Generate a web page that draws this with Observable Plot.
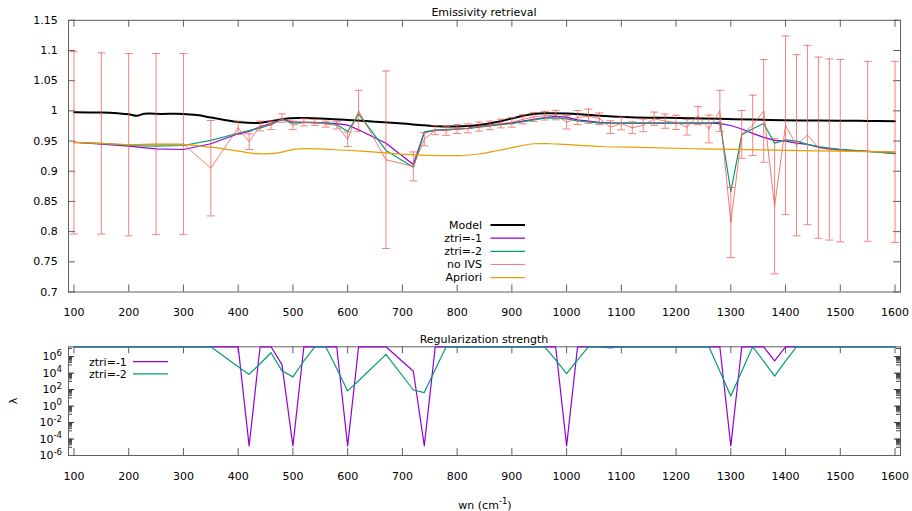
<!DOCTYPE html>
<html><head><meta charset="utf-8">
<script src="https://cdn.jsdelivr.net/npm/d3@7"></script>
<script src="https://cdn.jsdelivr.net/npm/@observablehq/plot@0.6"></script>
<style>
body{margin:0;background:#fff;}
#wrap{position:relative;width:912px;height:511px;overflow:hidden;background:#fff;font-family:"DejaVu Sans",sans-serif;}
#wrap svg{position:absolute;left:0;}
</style></head><body><div id="wrap"></div>
<script>
// ---------------- data ----------------
const wn = [100,150,200,250,300,350,400,420,440,460,480,500,520,540,560,580,600,620,670,720,740,760,780,800,820,840,860,880,900,920,940,960,980,1000,1020,1040,1060,1080,1100,1120,1140,1160,1180,1200,1220,1240,1260,1280,1300,1320,1340,1360,1380,1400,1420,1440,1460,1480,1500,1550,1600];
const noIVS = [0.947,0.946,0.944,0.945,0.945,0.905,
 0.972,
 0.949,0.975,0.976,0.988,0.976,0.981,0.981,0.978,0.976,0.953,1.000,
 0.919,0.908,
 0.953,0.968,0.967,0.970,0.971,0.974,0.976,0.979,0.981,0.986,
 0.990,0.992,0.993,0.981,0.989,0.991,0.987,0.973,0.979,0.972,
 0.976,0.987,0.983,0.981,0.973,0.992,0.970,1.000,0.815,0.961,
 0.976,1.000,0.842,0.976,0.943,0.960,0.939,0.936,0.934,
 0.933,0.932];
const noIVSerr = [0.151,0.150,0.151,0.150,0.150,0.079,
 0.011,
 0.013,0.008,0.007,0.007,0.007,0.006,0.005,0.005,0.006,0.012,0.034,
 0.147,0.024,
 0.011,0.0075,0.0075,0.0075,0.0075,0.0075,0.007,0.0072,0.008,0.0075,
 0.0075,0.0072,0.0078,0.011,0.0116,0.012,0.0097,0.0105,0.0105,0.0097,
 0.0105,0.011,0.0118,0.0118,0.013,0.015,0.023,0.034,0.058,0.0395,
 0.05,0.085,0.112,0.148,0.150,0.1485,0.150,0.150,0.151,
 0.149,0.150];
const ztri1 = [0.948,0.945,0.9415,0.937,0.936,0.9455,
 0.962,
 0.966,0.9736,0.979,0.9857,0.982,0.981,0.980,0.980,0.979,0.9765,0.9686,
 0.9465,0.9112,
 0.9647,0.9675,0.969,0.970,0.971,0.974,0.976,0.978,0.980,0.983,
 0.986,0.989,0.991,0.9895,0.985,0.983,0.981,0.980,0.9796,0.9796,
 0.9796,0.9796,0.9796,0.9796,0.9796,0.9796,0.9796,0.979,0.9758,0.970,
 0.9627,0.956,0.951,0.950,0.9465,0.9444,0.940,0.9372,0.9356,
 0.9328,0.930];
const ztri2 = [0.948,0.946,0.9426,0.9415,0.9426,0.951,
 0.963,
 0.9675,0.9714,0.9774,0.9857,0.9796,0.981,0.981,0.980,0.9774,0.9658,0.995,
 0.9344,0.9067,
 0.9647,0.9686,0.969,0.970,0.971,0.973,0.975,0.977,0.979,0.982,
 0.985,0.988,0.9885,0.9868,0.9835,0.9818,0.9796,0.9796,0.9796,0.9796,
 0.9796,0.9796,0.9796,0.9796,0.9796,0.9796,0.9796,0.9813,0.8664,0.9603,
 0.9703,0.979,0.9465,0.952,0.9499,0.9444,0.941,0.9383,0.9361,
 0.9328,0.929];
const modelWn = [100,150,180,200,215,228,260,300,325,350,375,400,437,460,490,520,560,600,650,700,740,780,810,843,870,898,920,940,962,1000,1030,1062,1117,1184,1250,1306,1370,1428,1500,1550,1600];
const modelVal = [0.9978,0.9972,0.996,0.9945,0.9918,0.9951,0.995,0.995,0.993,0.989,0.985,0.9815,0.980,0.983,0.9874,0.988,0.987,0.985,0.982,0.979,0.976,0.974,0.9745,0.977,0.981,0.9868,0.992,0.995,0.996,0.9955,0.994,0.992,0.9896,0.9885,0.9875,0.9863,0.985,0.9841,0.9838,0.9833,0.983];
const aprioriWn = [100,200,300,350,400,440,470,504,530,569,625,680,722,770,812,843,873,905,940,970,995,1062,1117,1245,1428,1600];
const aprioriVal = [0.948,0.9442,0.9442,0.9398,0.9332,0.9288,0.930,0.9365,0.9375,0.936,0.9332,0.9295,0.9272,0.926,0.9261,0.929,0.934,0.940,0.9455,0.9455,0.9444,0.941,0.9398,0.937,0.9343,0.9317];
const LTOP = 1.58e7; // lambda at the top of the panel
const lambda1 = [LTOP,LTOP,LTOP,LTOP,LTOP,LTOP,
 LTOP,
 1.5e-5,LTOP,LTOP,1.1e5,1.5e-5,LTOP,LTOP,LTOP,LTOP,1.5e-5,LTOP,
 LTOP,1.7e4,
 1.5e-5,LTOP,LTOP,LTOP,LTOP,LTOP,LTOP,LTOP,LTOP,LTOP,
 LTOP,LTOP,LTOP,1.5e-5,LTOP,LTOP,LTOP,LTOP,LTOP,LTOP,
 LTOP,LTOP,LTOP,LTOP,LTOP,LTOP,LTOP,LTOP,1.5e-5,LTOP,
 LTOP,LTOP,3e5,LTOP,LTOP,LTOP,LTOP,LTOP,LTOP,
 LTOP,LTOP];
const lambda2 = [LTOP,LTOP,LTOP,LTOP,LTOP,LTOP,
 6e4,
 7e3,1.4e5,3e6,1.9e4,3.5e3,3e5,LTOP,LTOP,3.7e4,70,1.2e3,
 1.9e6,90,
 44,2.8e4,LTOP,LTOP,LTOP,LTOP,LTOP,LTOP,LTOP,LTOP,
 LTOP,LTOP,4e5,9e3,4e5,LTOP,LTOP,1.2e7,LTOP,LTOP,
 LTOP,LTOP,LTOP,LTOP,LTOP,LTOP,LTOP,1.7e4,17,1.7e4,
 LTOP,2.8e5,4.4e3,2.8e5,LTOP,LTOP,LTOP,LTOP,LTOP,
 LTOP,LTOP];
const xTicks = [100,200,300,400,500,600,700,800,900,1000,1100,1200,1300,1400,1500,1600];
const yTicks = [0.7,0.75,0.8,0.85,0.9,0.95,1,1.05,1.1,1.15];
const lamTicks = [1e-6,1e-4,1e-2,1,1e2,1e4,1e6];
const topLegend = ["Model","ztri=-1","ztri=-2","no IVS","Apriori"];
const bottomLegend = ["ztri=-1","ztri=-2"];
const titles = ["Emissivity retrieval","Regularization strength"];

// ---------------- style ----------------
const FONT = "DejaVu Sans";
const GRAY = "#606060";
const C_MODEL = "#000000", C_Z1 = "#9400d3", C_Z2 = "#009e73", C_RED = "#ef5a50", C_APR = "#e69f00";
const W = 912, FL = 68, FR = 900, FW = FR - FL;
const T1 = 19.8, B1 = 291.5, H1 = 325, FH1 = B1 - T1;
const OFF2 = 325, T2 = 346.3 - OFF2, B2 = 455 - OFF2, H2 = 511 - OFF2, FH2 = B2 - T2;
const TICK = 7;
const SVGNS = "http://www.w3.org/2000/svg";

const redData = wn.map((x, i) => ({x, v: noIVS[i], e: noIVSerr[i]}));
const z1Data = wn.map((x, i) => ({x, v: ztri1[i], l: lambda1[i]}));
const z2Data = wn.map((x, i) => ({x, v: ztri2[i], l: lambda2[i]}));
const modelData = modelWn.map((x, i) => ({x, v: modelVal[i]}));
const aprData = aprioriWn.map((x, i) => ({x, v: aprioriVal[i]}));

const cap = {draw(ctx, size) { const w = Math.sqrt(size / Math.PI); ctx.moveTo(-w, 0); ctx.lineTo(w, 0); }};
const fmtPow = d => "10^" + Math.round(Math.log10(d));

const lamMinor = [];
for (let e = -7; e <= 7; e += 2) for (let m = 1; m <= 9; m++) {
  const v = m * Math.pow(10, e);
  if (v >= 1e-6 && v <= LTOP) lamMinor.push(v);
}

const baseStyle = {fontFamily: FONT, fontSize: "11px", background: "transparent", overflow: "visible", color: "#000"};

const topPlot = Plot.plot({
  width: W, height: H1, marginLeft: FL, marginRight: W - FR, marginTop: T1, marginBottom: H1 - B1,
  style: baseStyle,
  x: {domain: [90, 1610], label: null},
  y: {domain: [0.7, 1.15], label: null},
  marks: [
    Plot.frame({stroke: GRAY}),
    Plot.ruleX(xTicks, {x: d => d, insetTop: FH1 - TICK, stroke: GRAY}),
    Plot.ruleX(xTicks, {x: d => d, insetBottom: FH1 - TICK, stroke: GRAY}),
    Plot.ruleY(yTicks, {y: d => d, insetRight: FW - TICK, stroke: GRAY}),
    Plot.ruleY(yTicks, {y: d => d, insetLeft: FW - TICK, stroke: GRAY}),
    Plot.axisX({ticks: xTicks, tickSize: 0, tickPadding: 16.4, tickFormat: d => String(d), label: null}),
    Plot.axisY({ticks: yTicks, tickSize: 0, tickPadding: 10.7, tickFormat: d => String(+d.toFixed(2)), label: null}),
    Plot.line(modelData, {x: "x", y: "v", stroke: C_MODEL, strokeWidth: 2, curve: "catmull-rom"}),
    Plot.line(z1Data, {x: "x", y: "v", stroke: C_Z1, strokeWidth: 1.2}),
    Plot.line(z2Data, {x: "x", y: "v", stroke: C_Z2, strokeWidth: 1.2}),
    Plot.ruleX(redData, {x: "x", y1: d => d.v - d.e, y2: d => d.v + d.e, stroke: C_RED, strokeOpacity: 0.75, strokeWidth: 1}),
    Plot.dot(redData, {x: "x", y: d => d.v + d.e, symbol: cap, r: 4, stroke: C_RED, strokeOpacity: 0.75, fill: "none", strokeWidth: 1}),
    Plot.dot(redData, {x: "x", y: d => d.v - d.e, symbol: cap, r: 4, stroke: C_RED, strokeOpacity: 0.75, fill: "none", strokeWidth: 1}),
    Plot.line(redData, {x: "x", y: "v", stroke: C_RED, strokeOpacity: 0.8, strokeWidth: 1}),
    Plot.line(aprData, {x: "x", y: "v", stroke: C_APR, strokeWidth: 1.2, curve: "catmull-rom"})
  ]
});
topPlot.style.top = "0px";

const botPlot = Plot.plot({
  width: W, height: H2, marginLeft: FL, marginRight: W - FR, marginTop: T2, marginBottom: H2 - B2,
  style: baseStyle,
  x: {domain: [90, 1610], label: null},
  y: {type: "log", domain: [1e-6, LTOP], label: null},
  marks: [
    Plot.ruleX(xTicks, {x: d => d, insetTop: FH2 - TICK, stroke: GRAY}),
    Plot.ruleX(xTicks, {x: d => d, insetBottom: FH2 - TICK, stroke: GRAY}),
    Plot.ruleY(lamTicks, {y: d => d, insetRight: FW - 6, stroke: "#222"}),
    Plot.ruleY(lamTicks, {y: d => d, insetLeft: FW - 6, stroke: "#222"}),
    Plot.ruleY(lamMinor, {y: d => d, insetRight: FW - 4, stroke: "#444"}),
    Plot.ruleY(lamMinor, {y: d => d, insetLeft: FW - 4, stroke: "#444"}),
    Plot.axisX({ticks: xTicks, tickSize: 0, tickPadding: 16.2, tickFormat: d => String(d), label: null}),
    Plot.axisY({ticks: lamTicks, tickSize: 0, tickPadding: 6.5, tickFormat: fmtPow, label: null}),
    Plot.frame({stroke: GRAY}),
    Plot.line(z1Data, {x: "x", y: "l", stroke: C_Z1, strokeWidth: 1.2}),
    Plot.line(z2Data, {x: "x", y: "l", stroke: C_Z2, strokeWidth: 1.2})
  ]
});
botPlot.style.top = OFF2 + "px";

// turn "10^k" tick labels into 10 with a raised exponent
botPlot.querySelectorAll("text").forEach(t => {
  const m = t.textContent.match(/^10\^(-?\d+)$/);
  if (m) {
    t.textContent = "10";
    const ts = document.createElementNS(SVGNS, "tspan");
    ts.setAttribute("dy", "-4.5");
    ts.setAttribute("font-size", "8.5");
    ts.textContent = m[1];
    t.appendChild(ts);
  }
});

const wrap = document.getElementById("wrap");
wrap.appendChild(topPlot);
wrap.appendChild(botPlot);

// ---------------- overlay: titles, legends, axis labels ----------------
const ov = d3.create("svg").attr("width", W).attr("height", 511)
  .style("top", "0px").style("pointer-events", "none")
  .attr("font-family", FONT).attr("font-size", 11).attr("fill", "#000");
ov.append("text").attr("x", 484).attr("y", 12.5).attr("text-anchor", "middle").attr("dy", "0.35em").text(titles[0]);
ov.append("text").attr("x", 484).attr("y", 339).attr("text-anchor", "middle").attr("dy", "0.35em").text(titles[1]);
const xl = ov.append("text").attr("x", 485).attr("y", 505).attr("text-anchor", "middle").attr("dy", "0.35em");
xl.append("tspan").text("wn (cm");
xl.append("tspan").attr("dy", -4.5).attr("font-size", 8.5).text("-1");
xl.append("tspan").attr("dy", 4.5).text(")");
ov.append("text").attr("transform", "translate(13,401) rotate(-90)").attr("text-anchor", "middle").attr("dy", "0.35em").text("λ");

const topCols = [C_MODEL, C_Z1, C_Z2, C_RED, C_APR];
const topW = [2, 1.2, 1.2, 1, 1.2];
topLegend.forEach((t, i) => {
  const y = 225 + i * 13.15;
  ov.append("text").attr("x", 482).attr("y", y).attr("dy", "0.35em").attr("text-anchor", "end").text(t);
  ov.append("line").attr("x1", 490.5).attr("x2", 525).attr("y1", y).attr("y2", y)
    .attr("stroke", topCols[i]).attr("stroke-width", topW[i]).attr("stroke-opacity", i === 3 ? 0.8 : 1);
});
const botCols = [C_Z1, C_Z2];
bottomLegend.forEach((t, i) => {
  const y = 361.7 + i * 12.2;
  ov.append("text").attr("x", 89).attr("y", y).attr("dy", "0.35em").attr("text-anchor", "start").text(t);
  ov.append("line").attr("x1", 133).attr("x2", 168).attr("y1", y).attr("y2", y)
    .attr("stroke", botCols[i]).attr("stroke-width", 1.2);
});
wrap.appendChild(ov.node());
</script></body></html>
